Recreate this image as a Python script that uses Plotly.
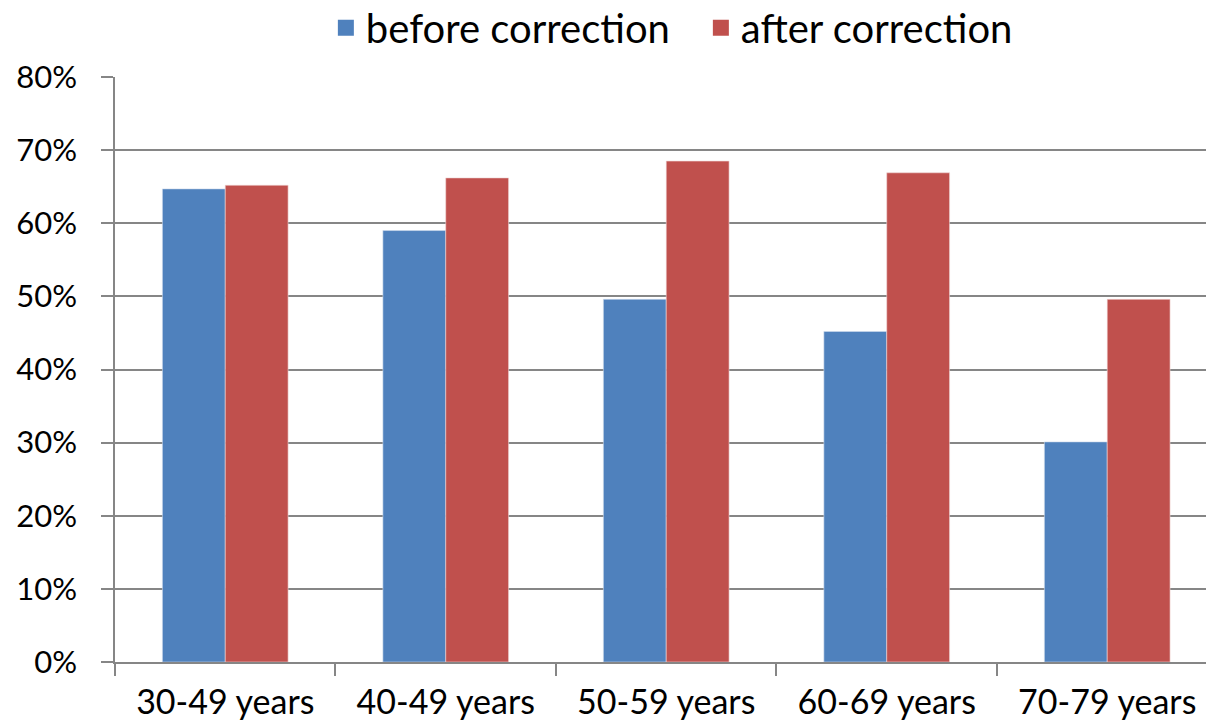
import plotly.graph_objects as go

categories = ["30-49 years", "40-49 years", "50-59 years", "60-69 years", "70-79 years"]
before_correction = [64.7, 59.0, 49.6, 45.2, 30.1]
after_correction = [65.2, 66.2, 68.5, 66.9, 49.6]
series_names = ["before correction", "after correction"]
series_colors = ["#4F81BD", "#C0504D"]
y_ticks = [0, 10, 20, 30, 40, 50, 60, 70, 80]
y_tick_labels = [f"{v}%" for v in y_ticks]

FONT = "Lato"

fig = go.Figure()
fig.add_trace(go.Bar(name=series_names[0], x=categories, y=before_correction, showlegend=False,
                     marker=dict(color=series_colors[0], line=dict(color="#D0DCEC", width=0.6))))
fig.add_trace(go.Bar(name=series_names[1], x=categories, y=after_correction, showlegend=False,
                     marker=dict(color=series_colors[1], line=dict(color="#F0D6D6", width=0.6))))
# legend entries with larger square swatches
for name, color in zip(series_names, series_colors):
    fig.add_trace(go.Scatter(name=name, x=[None], y=[None], mode="markers",
                             marker=dict(symbol="square", size=26, color=color),
                             showlegend=True))

fig.update_layout(
    width=1206, height=726,
    margin=dict(l=115, r=0, t=77, b=64, autoexpand=False),
    paper_bgcolor="white", plot_bgcolor="white",
    barmode="group", bargap=0.43, bargroupgap=0,
    font=dict(family=FONT, size=32, color="black"),
    legend=dict(orientation="h", x=0.537, xanchor="center", y=1.084, yanchor="middle",
                font=dict(family=FONT, size=40, color="black"),
                itemwidth=30, entrywidth=330, traceorder="normal", bgcolor="rgba(0,0,0,0)"),
    showlegend=True,
    xaxis=dict(range=[-0.5, 4.448], showline=True, linecolor="#868686", linewidth=1.5,
               ticks="outside", tickson="boundaries", ticklen=12, tickcolor="#868686",
               tickwidth=1.5, showgrid=False, automargin=False, ticklabelstandoff=9,
               tickfont=dict(family=FONT, size=34, color="black"),
               fixedrange=True),
    yaxis=dict(range=[0, 80], tickvals=y_ticks, ticktext=y_tick_labels,
               showline=True, linecolor="#868686", linewidth=1.5,
               ticks="outside", ticklen=12, tickcolor="#868686", tickwidth=1.5,
               showgrid=True, gridcolor="#868686", gridwidth=1.5, zeroline=False,
               automargin=False, ticklabelstandoff=18,
               tickfont=dict(family=FONT, size=31, color="black"), fixedrange=True),
)

fig.write_html("out.html", config={"displayModeBar": False},
               post_script="document.body.style.margin='0';document.body.style.overflow='hidden';")
